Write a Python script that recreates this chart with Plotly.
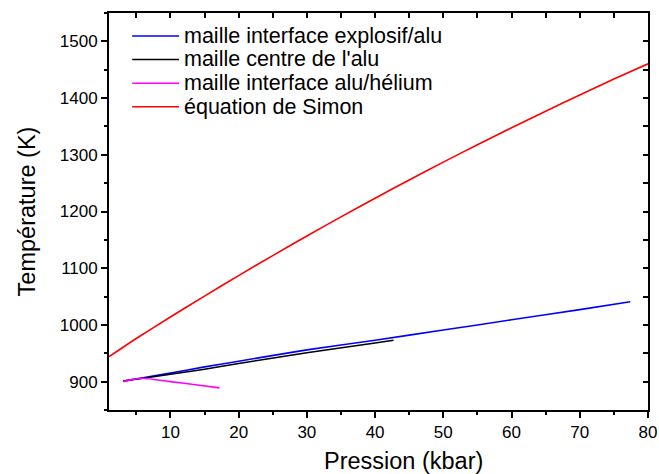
import plotly.graph_objects as go

# Data
p_explosif = [3.1, 6, 10, 15, 20, 30, 40, 50, 60, 70, 77.4]
t_explosif = [901, 907, 915, 926, 936, 956, 973, 991, 1009, 1027, 1041]

p_centre = [3.1, 6, 10, 15, 20, 30, 40, 42.7]
t_centre = [901, 906, 913, 922, 932, 951, 968, 973]

p_helium = [3.1, 4.5, 6, 10, 14, 17.2]
t_helium = [900, 904, 906, 900, 894, 889]

p_simon = [1, 5, 10, 15, 20, 25, 30, 35, 40, 45, 50, 55, 60, 65, 70, 75, 80]
t_simon = [944, 976, 1013.9, 1050.9, 1087, 1122.3, 1156.8, 1190.5, 1223.4,
           1255.6, 1287.1, 1317.8, 1347.7, 1376.9, 1405.5, 1433.5, 1460.5]

names = ["maille interface explosif/alu", "maille centre de l'alu",
         "maille interface alu/hélium", "équation de Simon"]
colors = ["#0000FF", "#000000", "#FF00FF", "#FF0000"]

x_title = "Pression (kbar)"
y_title = "Température (K)"

x_range = [1, 80]
y_range = [850, 1550]

fig = go.Figure()
for (px, ty), name, col in zip(
        [(p_explosif, t_explosif), (p_centre, t_centre),
         (p_helium, t_helium), (p_simon, t_simon)], names, colors):
    fig.add_trace(go.Scatter(x=px, y=ty, mode="lines", name=name,
                             showlegend=False,
                             line=dict(color=col, width=1.6, shape="spline",
                                       smoothing=0.6)))

# invisible trace on mirror axes so they are drawn
fig.add_trace(go.Scatter(x=[None], y=[None], xaxis="x2", yaxis="y2",
                         showlegend=False, hoverinfo="skip"))

# legend drawn as line samples + labels (compact row spacing like the original)
leg_x0, leg_x1, leg_tx = 0.043, 0.130, 0.136
leg_rows = [0.942, 0.883, 0.823, 0.764]
for name, col, yy in zip(names, colors, leg_rows):
    fig.add_shape(type="line", xref="paper", yref="paper",
                  x0=leg_x0, x1=leg_x1, y0=yy, y1=yy,
                  line=dict(color=col, width=1.6))
    fig.add_annotation(xref="paper", yref="paper", x=leg_tx, y=yy,
                       xanchor="left", yanchor="middle", showarrow=False,
                       text=name, font=dict(size=21.5))

# x-axis title (offset to the right as in the original)
fig.add_annotation(xref="paper", yref="paper", x=0.547, y=-0.128,
                   xanchor="center", yanchor="middle", showarrow=False,
                   text=x_title, font=dict(size=23.5))

font = "Liberation Sans, Arial, sans-serif"
common = dict(showgrid=False, zeroline=False, showline=True, linecolor="black",
              linewidth=1.8, tickcolor="black", tickwidth=1.5, automargin=False)
fig.update_layout(
    width=659, height=474,
    margin=dict(l=109, r=11, t=13, b=64, autoexpand=False),
    paper_bgcolor="white", plot_bgcolor="white",
    font=dict(family=font, color="black", size=17),
    showlegend=False,
    xaxis=dict(range=x_range, tick0=0, dtick=10, ticks="outside", ticklen=6,
               tickfont=dict(size=17),
               minor=dict(dtick=5, ticks="outside", ticklen=3, tickwidth=1.5,
                          tickcolor="black", showgrid=False),
               **common),
    yaxis=dict(range=y_range, tick0=0, dtick=100, ticks="outside", ticklen=6,
               tickfont=dict(size=17),
               minor=dict(dtick=50, ticks="outside", ticklen=3, tickwidth=1.5,
                          tickcolor="black", showgrid=False),
               title=dict(text=y_title, font=dict(size=23.5), standoff=18),
               **common),
    xaxis2=dict(range=x_range, overlaying="x", side="top", anchor="y",
                tick0=0, dtick=10, ticks="inside", ticklen=5,
                showticklabels=False,
                minor=dict(dtick=5, ticks="inside", ticklen=5, tickwidth=1.5,
                           tickcolor="black", showgrid=False),
                **common),
    yaxis2=dict(range=y_range, overlaying="y", side="right", anchor="x",
                tick0=0, dtick=100, ticks="inside", ticklen=5,
                showticklabels=False,
                minor=dict(dtick=50, ticks="inside", ticklen=5, tickwidth=1.5,
                           tickcolor="black", showgrid=False),
                **common),
)

fig.write_html("out.html", config={"displayModeBar": False},
               post_script="document.body.style.margin='0px';")
